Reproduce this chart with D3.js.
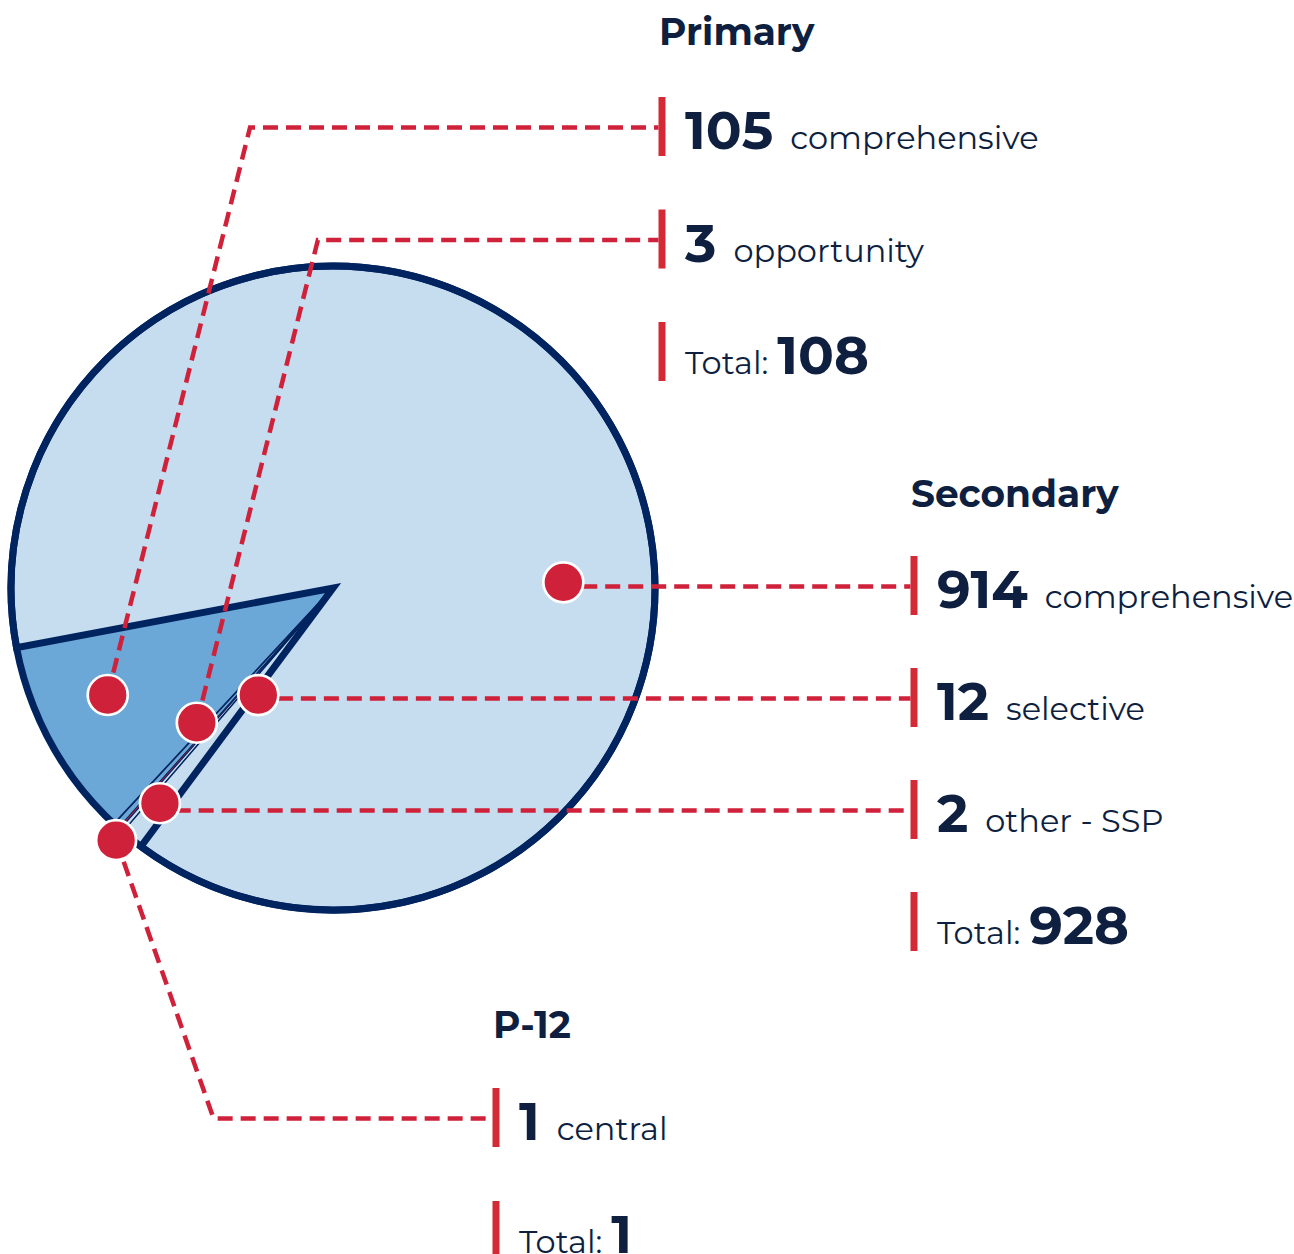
<!DOCTYPE html>
<html>
<head>
<meta charset="utf-8">
<script src="https://cdn.jsdelivr.net/npm/d3@7"></script>
<style>
  html, body { margin: 0; padding: 0; background: #ffffff; }
  svg { display: block; }
  text { font-family: Montserrat, Inter, "Open Sans", sans-serif; fill: #0e1f40; }
</style>
</head>
<body>
<script>
// ---------------- data ----------------
const groups      = ["Primary", "Secondary", "P-12"];
const sliceGroup  = ["Primary", "Primary", "P-12", "Secondary", "Secondary", "Secondary"];
const sliceLabel  = ["comprehensive", "opportunity", "central", "other - SSP", "selective", "comprehensive"];
const sliceValue  = [105, 3, 1, 2, 12, 914];
// order of legend rows inside each group (indices into the slice arrays)
const legendOrder = { "Primary": [0, 1], "Secondary": [5, 4, 3], "P-12": [2] };

// ---------------- layout / style ----------------
const W = 1294, H = 1254;
const cx = 333, cy = 588, R = 322;
const startDeg = 259.3;
const groupColor = { "Primary": "#6ba8d8", "Secondary": "#c6dcef", "P-12": "#d0213a" };
const navy = "#00245f", red = "#d0213a", barRed = "#d42a35";
const groupLayout = {
  "Primary":   { barX: 662, top: 97,   step: 112.5, headY: 45 },
  "Secondary": { barX: 914, top: 556,  step: 112,   headY: 507 },
  "P-12":      { barX: 496, top: 1088, step: 113,   headY: 1038 }
};
// marker polar positions (deg clockwise from 12 o'clock, radius px) and leader slant (deg)
const markerPolar = [
  { a: 244.6, r: 249.4, slant: 14.08 },
  { a: 225.3, r: 191.6, slant: 14.08 },
  { a: 220.7, r: 332.6, slant: -19.3 },
  { a: 218.8, r: 276.2, slant: 0 },
  { a: 214.9, r: 130.5, slant: 0 },
  { a: 88.6,  r: 230.4, slant: 0 }
];
// stroke widths of the slice outlines (thin for the slivers)
const sliceStroke = [2.2, 1.2, 0.8, 1.2, 1.4, 7];

const rad = d => d * Math.PI / 180;

const svg = d3.select("body").append("svg").attr("width", W).attr("height", H);

const data = sliceValue.map((v, i) => ({ value: v, group: sliceGroup[i], label: sliceLabel[i], i }));
const pie = d3.pie().value(d => d.value).sort(null)
  .startAngle(rad(startDeg)).endAngle(rad(startDeg) - 2 * Math.PI);
const arc = d3.arc().innerRadius(0).outerRadius(R);

const gPie = svg.append("g").attr("transform", `translate(${cx},${cy})`);
gPie.selectAll("path.slice").data(pie(data)).join("path")
  .attr("class", "slice")
  .attr("d", arc)
  .attr("fill", d => groupColor[d.data.group])
  .attr("stroke", navy)
  .attr("stroke-width", d => sliceStroke[d.data.i])
  .attr("stroke-linejoin", "miter");
gPie.append("circle").attr("r", R).attr("fill", "none")
  .attr("stroke", navy).attr("stroke-width", 7);

// ---------------- legend rows ----------------
const rowInfo = {};  // slice index -> {barX, top}
const gLegend = svg.append("g");
groups.forEach(g => {
  const L = groupLayout[g];
  gLegend.append("text").attr("x", L.barX - 3).attr("y", L.headY)
    .attr("font-size", 37.5).attr("font-weight", 700).text(g);
  const rows = legendOrder[g];
  const total = d3.sum(rows, i => sliceValue[i]);
  const all = rows.map(i => ({ type: "item", i })).concat([{ type: "total", value: total }]);
  all.forEach((row, k) => {
    const top = L.top + k * L.step;
    gLegend.append("rect").attr("x", L.barX - 3.5).attr("y", top)
      .attr("width", 7).attr("height", 59).attr("fill", barRed);
    const t = gLegend.append("text").attr("x", L.barX + 23).attr("y", top + 52);
    if (row.type === "item") {
      rowInfo[row.i] = { barX: L.barX, top };
      t.append("tspan").attr("font-size", 53).attr("font-weight", 700).text(sliceValue[row.i]);
      t.append("tspan").attr("dx", 17).attr("font-size", 32).attr("font-weight", 400).text(sliceLabel[row.i]);
    } else {
      t.append("tspan").attr("font-size", 32).attr("font-weight", 400).text("Total:");
      t.append("tspan").attr("dx", 9).attr("font-size", 53).attr("font-weight", 700).text(row.value);
    }
  });
});

// ---------------- leaders & markers ----------------
const markers = markerPolar.map(p => {
  const [x, y] = d3.pointRadial(rad(p.a), p.r);
  return [cx + x, cy + y];
});
const gLead = svg.append("g");
const line = d3.line();
data.forEach((d, i) => {
  const info = rowInfo[i];
  const [mx, my] = markers[i];
  const ly = info.top + 30.5;
  const ex = mx + (my - ly) * Math.tan(rad(markerPolar[i].slant));
  const pts = [[mx, my], [ex, ly], [info.barX - 3.5, ly]];
  gLead.append("path").attr("d", line(pts))
    .attr("fill", "none").attr("stroke", red).attr("stroke-width", 4.5)
    .attr("stroke-dasharray", "15 8");
});
svg.append("g").selectAll("circle").data(markers).join("circle")
  .attr("cx", d => d[0]).attr("cy", d => d[1]).attr("r", 20)
  .attr("fill", red).attr("stroke", "#ffffff").attr("stroke-width", 2.7);
</script>
</body>
</html>
